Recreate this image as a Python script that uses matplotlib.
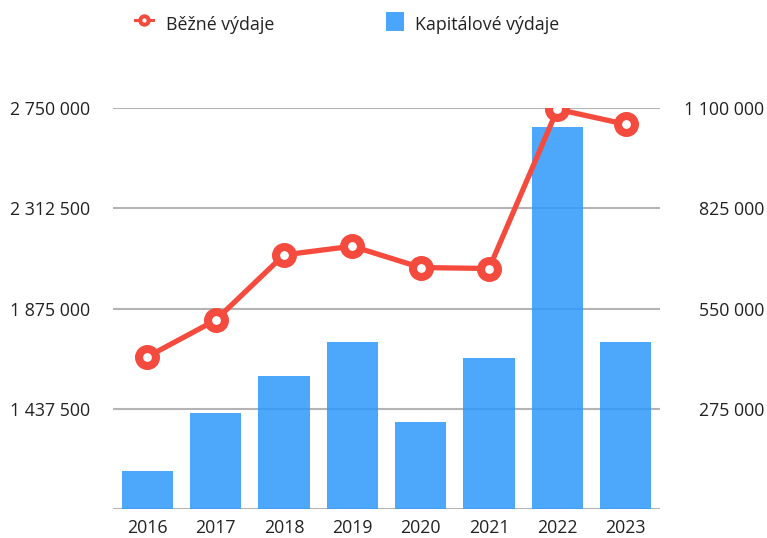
import matplotlib
matplotlib.use("Agg")
import matplotlib.pyplot as plt
from matplotlib.lines import Line2D
from matplotlib.patches import Rectangle

plt.rcParams['font.family'] = ['Open Sans', 'DejaVu Sans']

years = ["2016", "2017", "2018", "2019", "2020", "2021", "2022", "2023"]
bezne = [1663900, 1824000, 2108800, 2146800, 2053800, 2049500, 2744300, 2678900]
kapitalove = [104200, 263200, 364700, 457900, 238500, 414000, 1047400, 457900]
left_ticks = [1000000, 1437500, 1875000, 2312500, 2750000]
right_ticks = [0, 275000, 550000, 825000, 1100000]
series_names = ['Běžné výdaje', 'Kapitálové výdaje']

line_color = '#F44B3E'
bar_color = '#2E98FB'
legend_bar_color = '#4AA5FC'
grid_color = '#B4B4B4'
text_color = '#222222'
FS = 12.8

W, H = 767, 538
fig = plt.figure(figsize=(W / 100, H / 100), dpi=100)
ax = fig.add_axes([113 / W, (H - 509) / H, 547 / W, 401 / H])
ax2 = ax.twinx()

x = list(range(len(years)))

def fmt(v):
    return f"{int(round(v)):,}".replace(',', ' ')

# bars (right scale)
ax.bar(x, kapitalove, width=0.75, color=bar_color, alpha=0.85, zorder=2)
ax.set_ylim(0, 1100000)
ax.set_yticks(right_ticks)
ax.set_yticklabels(['' if v == 0 else fmt(v) for v in right_ticks])
ax.yaxis.tick_right()
ax.yaxis.set_label_position('right')
ax.tick_params(axis='y', length=0, pad=75, labelsize=FS, colors=text_color)
for lab in ax.get_yticklabels():
    lab.set_horizontalalignment('right')
ax.grid(axis='y', color=grid_color, linewidth=1.5, zorder=1)
ax.set_axisbelow(True)
ax.set_xlim(-0.5, len(years) - 0.5)
ax.set_xticks(x)
ax.set_xticklabels(years)
ax.tick_params(axis='x', length=0, pad=7.5, labelsize=FS, colors=text_color)
for s in ax.spines.values():
    s.set_visible(False)

# line (left scale)
ax2.plot(x, bezne, color=line_color, linewidth=3.8, marker='o', markersize=12.2,
         markeredgewidth=5.8, markerfacecolor='white', markeredgecolor=line_color,
         zorder=3, solid_capstyle='round')
ax2.set_ylim(1000000, 2750000)
ax2.set_yticks(left_ticks)
ax2.set_yticklabels(['' if v == 1000000 else fmt(v) for v in left_ticks])
ax2.yaxis.tick_left()
ax2.tick_params(axis='y', length=0, pad=16.5, labelsize=FS, colors=text_color)
for s in ax2.spines.values():
    s.set_visible(False)

# legend (drawn in figure pixel coordinates)
def fx(px):
    return px / W

def fy(py):
    return 1 - py / H

fig.add_artist(Line2D([fx(135), fx(153)], [fy(20), fy(20)], color=line_color,
                      linewidth=2.2, transform=fig.transFigure))
fig.add_artist(Line2D([fx(144)], [fy(20)], marker='o', markersize=6,
                      markeredgewidth=2.9, markerfacecolor='white',
                      markeredgecolor=line_color, transform=fig.transFigure))
fig.text(fx(166), fy(30.5), series_names[0], fontsize=FS, color=text_color,
         ha='left', va='baseline')
fig.add_artist(Rectangle((fx(386), fy(31)), 18 / W, 19 / H,
                         facecolor=legend_bar_color, edgecolor='none',
                         transform=fig.transFigure))
fig.text(fx(415), fy(30.5), series_names[1], fontsize=FS, color=text_color,
         ha='left', va='baseline')

fig.savefig('out.png', dpi=100)
